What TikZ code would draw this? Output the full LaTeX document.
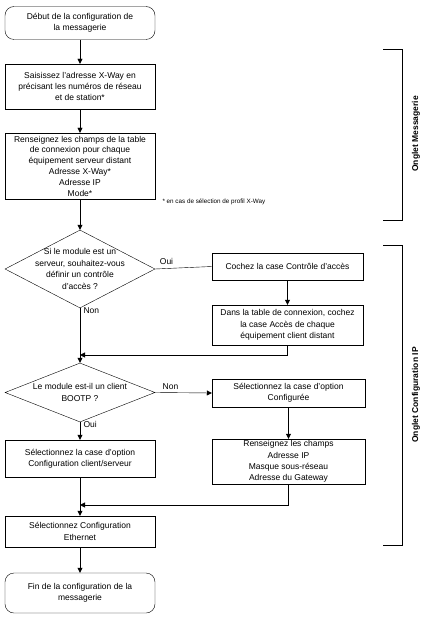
\documentclass[tikz,border=0pt]{standalone}
\usepackage{fontspec}
\setmainfont{Liberation Sans}
\usetikzlibrary{arrows.meta,positioning,shapes.geometric}

\begin{document}
\begin{tikzpicture}[x=1pt,y=-1pt,>={Triangle[length=5pt,width=5pt]},
  every node/.style={font=\fontsize{8.5}{11.4}\selectfont},
  box/.style={draw,align=center,minimum width=150pt,inner sep=1pt},
  term/.style={box,rounded corners=9pt},
  choice/.style={draw,diamond,minimum width=150pt,inner sep=0pt},
  tab/.style={font=\fontsize{8.5}{10}\selectfont\bfseries,rotate=90}]
  \useasboundingbox (0,0) rectangle (440,620);
  % colonne de gauche
  \node[term,minimum height=33pt] (debut) at (80,23) {D\'ebut de la configuration de\\la messagerie};
  \node[box,minimum height=45pt] (xway) at (80,86.5) {Saisissez l'adresse X-Way en\\pr\'ecisant les num\'eros de r\'eseau\\et de station*};
  \node[box,minimum height=66pt,inner sep=0pt,font=\fontsize{8.5}{10.8}\selectfont] (champs) at (80,166) {Renseignez les champs de la table\\de connexion pour chaque\\\'equipement serveur distant\\Adresse X-Way*\\Adresse IP\\Mode*};
  \node[anchor=west,font=\fontsize{6.3}{8}\selectfont] (note) at (159,202) {* en cas de s\'election de profil X-Way};
  \node[choice,minimum height=78pt] (acces) at (80,269) {};
  \node[align=center] at (acces) {Si le module est un\\serveur, souhaitez-vous\\d\'efinir un contr\^ole\\d'acc\`es ?};
  \node[choice,minimum height=59pt] (bootp) at (80,392.5) {};
  \node[align=center] at (bootp) {Le module est-il un client\\BOOTP ?};
  \node[box,minimum height=37pt] (clserv) at (80,458.5) {S\'electionnez la case d'option\\Configuration client/serveur};
  \node[box,minimum height=31pt] (ether) at (80,531.5) {S\'electionnez Configuration\\Ethernet};
  \node[term,minimum height=40pt] (fin) at (80,593) {Fin de la configuration de la\\messagerie};
  % colonne de droite
  \node[box,minimum width=151pt,minimum height=27pt] (cocher) at (287.5,266.5) {Cochez la case Contr\^ole d'acc\`es};
  \node[box,minimum width=151pt,minimum height=40pt] (client) at (287.5,325) {Dans la table de connexion, cochez\\la case Acc\`es de chaque\\\'equipement client distant};
  \node[box,minimum width=153pt,minimum height=28pt] (configuree) at (288.5,393) {S\'electionnez la case d'option\\Configur\'ee};
  \node[box,minimum width=153pt,minimum height=45pt] (ip) at (288.5,461.5) {Renseignez les champs\\Adresse IP\\Masque sous-r\'eseau\\Adresse du Gateway};
  \coordinate (j1) at (80,355);
  \coordinate (j2) at (80,505);
  % liaisons
  \draw[->] (debut) -- (xway);
  \draw[->] (xway) -- (champs);
  \draw[->] (champs) -- (acces.north);
  \draw (acces.east) -- node[above,pos=0.2] {Oui} (cocher.west);
  \draw[->] (cocher) -- (client);
  \draw[->] (client.south) |- (j1);
  \draw[->] (acces.south) -- node[right,pos=0.05] {Non} (bootp.north);
  \draw[->] (bootp.east) -- node[above,pos=0.27] {Non} (configuree.west);
  \draw[->] (configuree) -- (ip);
  \draw[->] (ip.south) |- (j2);
  \draw[->] (bootp.south) -- node[right,pos=0.1] {Oui} (clserv.north);
  \draw[->] (clserv) -- (ether);
  \draw[->] (ether) -- (fin);
  % onglets
  \draw (383,49) -- (402,49) -- (402,220) -- (383,220);
  \node[tab] (msg) at (416,134) {Onglet Messagerie};
  \draw (383,245) -- (402,245) -- (402,545) -- (383,545);
  \node[tab] (cfgip) at (416,395) {Onglet Configuration IP};
\end{tikzpicture}
\end{document}
